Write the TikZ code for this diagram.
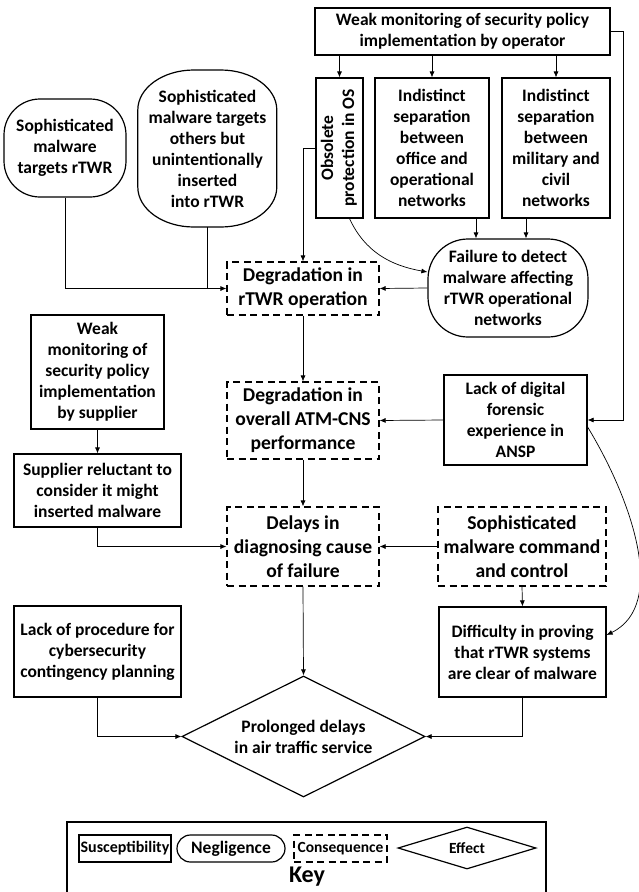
\documentclass[tikz,border=0pt]{standalone}
\usepackage{fontspec}
\setmainfont{Carlito}
\usepackage{graphicx}
\usetikzlibrary{arrows.meta,shapes.geometric}
\begin{document}
\begin{tikzpicture}[x=1pt,y=-1pt,
  every node/.style={font=\bfseries\fontsize{17.5}{21}\selectfont, align=center, inner sep=1pt},
  box/.style={draw, line width=1.2pt},
  cons/.style={box, dash pattern=on 7pt off 4.5pt, font=\bfseries\fontsize{19.6}{24}\selectfont},
  effect/.style={box, diamond, aspect=2, inner sep=0pt},
  arr/.style={-{Latex[length=6pt,width=5pt]}, line width=0.7pt},
  ln/.style={line width=0.7pt}]
\useasboundingbox (0,0) rectangle (638,892);
% top row
\node[box, minimum width=295pt, minimum height=47pt] (top) at (462.5,31.5) {Weak monitoring of security policy\\implementation by operator};
\node[box, minimum width=47pt, minimum height=140pt] (obs) at (339.5,148) {\rotatebox{90}{\begin{tabular}{@{}c@{}}Obsolete\\protection in OS\end{tabular}}};
\node[box, minimum width=114pt, minimum height=140pt] (off) at (432,148) {Indistinct\\separation\\between\\office and\\operational\\networks};
\node[box, minimum width=108pt, minimum height=140pt] (mil) at (556,148) {Indistinct\\separation\\between\\military and\\civil\\networks};
\node[box, rounded corners=40pt, minimum width=160pt, minimum height=98pt] (fail) at (508,288) {Failure to detect\\malware affecting\\rTWR operational\\networks};
\node[box, rounded corners=36pt, minimum width=122pt, minimum height=98pt] (s1) at (65,148) {Sophisticated\\malware\\targets rTWR};
\node[minimum width=139pt, minimum height=157pt] (s2) at (207.5,148.5) {Sophisticated\\malware targets\\others but\\unintentionally\\inserted\\into rTWR};
\draw[line width=1.2pt] ([yshift=38.5pt]s2.west)
  arc[start angle=180, end angle=90, x radius=56pt, y radius=40pt] -- ++(27pt,0pt)
  arc[start angle=90, end angle=0, x radius=56pt, y radius=40pt] -- ++(0pt,-77pt)
  arc[start angle=0, end angle=-90, x radius=56pt, y radius=40pt] -- ++(-27pt,0pt)
  arc[start angle=-90, end angle=-180, x radius=56pt, y radius=40pt] -- cycle;
\node[cons, minimum width=152pt, minimum height=53pt] (dr) at (303,288.5) {Degradation in\\rTWR operation};
% middle
\node[box, minimum width=133pt, minimum height=114pt] (sup) at (97.5,372) {Weak\\monitoring of\\security policy\\implementation\\by supplier};
\node[box, minimum width=167pt, minimum height=73pt] (rel) at (97.5,490.5) {Supplier reluctant to\\consider it might\\inserted malware};
\node[cons, minimum width=152pt, minimum height=77pt] (dov) at (303,420.5) {Degradation in\\overall ATM-CNS\\performance};
\node[box, minimum width=143pt, minimum height=90pt] (lack) at (515.5,420) {Lack of digital\\forensic\\experience in\\ANSP};
\node[cons, minimum width=152pt, minimum height=79pt] (del) at (303,546.5) {Delays in\\diagnosing cause\\of failure};
\node[cons, minimum width=168pt, minimum height=79pt] (cmd) at (522,546.5) {Sophisticated\\malware command\\and control};
% bottom
\node[box, minimum width=167pt, minimum height=91pt] (proc) at (97.5,651.5) {Lack of procedure for\\cybersecurity\\contingency planning};
\node[box, minimum width=167pt, minimum height=90pt] (diff) at (522.5,652) {Difficulty in proving\\that rTWR systems\\are clear of malware};
\node[effect, minimum width=243pt, minimum height=121pt] (eff) at (303.5,736.5) {Prolonged delays\\in air traffic service};
% connectors
\draw[arr] (top.south -| obs.north) -- (obs.north);
\draw[arr] (top.south -| off.north) -- (off.north);
\draw[arr] (top.south -| mil.north) -- (mil.north);
\draw[arr] (top.east) -- ++(13,0) |- (lack.east);
\draw[arr] ([xshift=44pt]off.south) -- ([xshift=44pt]off.south |- fail.north);
\draw[arr] ([xshift=-30pt]mil.south) -- ([xshift=-30pt]mil.south |- fail.north);
\draw[arr] ([xshift=10pt]obs.south) to[out=-65,in=170] ([yshift=16pt]fail.west);
\draw[arr] (obs.west) -| (dr.north);
\draw[arr] (fail.west) -- (dr.east);
\draw[arr] (s1.south) |- (dr.west);
\draw[ln] (s2.south) -- (s2.south |- dr.west);
\draw[arr] (dr.south) -- (dov.north);
\draw[arr] (dov.south) -- (del.north);
\draw[arr] (del.south) -- (eff.north);
\draw[arr] (sup.south) -- (rel.north);
\draw[arr] (rel.south) |- (del.west);
\draw[arr] (lack.west) -- (dov.east);
\draw[arr] (cmd.west) -- (del.east);
\draw[arr] (cmd.south) -- (diff.north);
\draw[arr] (proc.south) |- (eff.west);
\draw[arr] (diff.south) |- (eff.east);
\draw[arr] ([yshift=-7pt]lack.east) .. controls (632,500) and (668,605) .. ([yshift=17pt]diff.east);
% key
\coordinate (kbl) at (67,892);
\coordinate (ktl) at (67,822);
\coordinate (ktr) at (546,822);
\coordinate (kbr) at (546,892);
\draw[line width=1.2pt] (kbl) -- (ktl) -- (ktr) -- (kbr);
\node[box, minimum width=92pt, minimum height=27pt, font=\bfseries\fontsize{16}{19}\selectfont] (ks) at (125,848.5) {Susceptibility};
\node[box, rounded corners=13.5pt, minimum width=108pt, minimum height=27pt] (kn) at (231,848.5) {Negligence};
\node[cons, minimum width=93pt, minimum height=27pt, font=\bfseries\fontsize{15.5}{19}\selectfont] (kc) at (340.5,848.5) {Consequence};
\node[effect, minimum width=138pt, minimum height=42pt, font=\bfseries\fontsize{15.5}{19}\selectfont] (ke) at (467,848) {Effect};
\node[font=\bfseries\fontsize{24}{28}\selectfont] (key) at (307,877) {Key};
\end{tikzpicture}
\end{document}
